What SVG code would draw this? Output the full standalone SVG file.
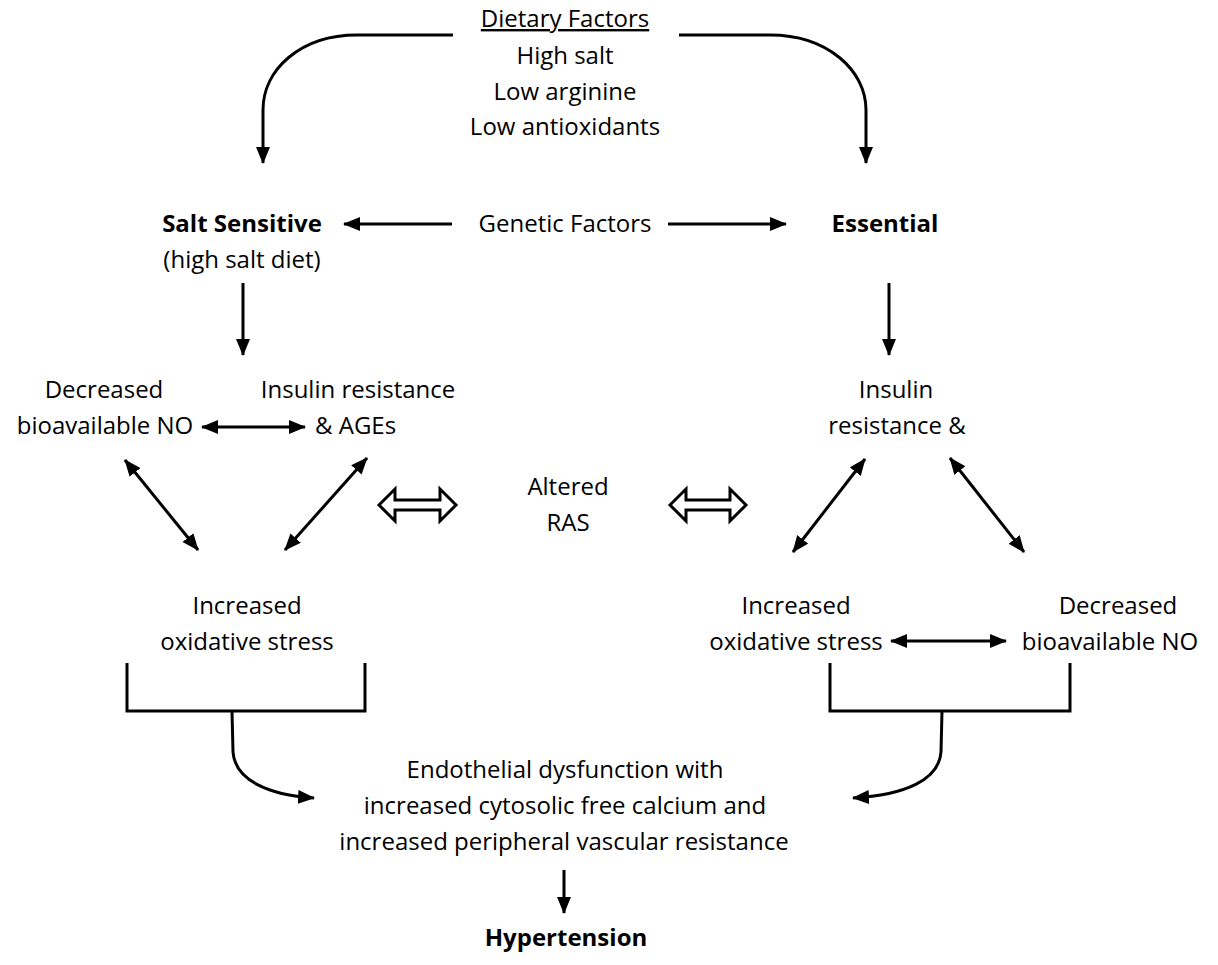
<svg xmlns="http://www.w3.org/2000/svg" width="1218" height="965" viewBox="0 0 1218 965">
<style>
text{font-family:"Open Sans",Lato,"Liberation Sans",sans-serif;font-size:24px;fill:#000;text-anchor:middle}
.b{font-weight:bold}
.ln{fill:none;stroke:#000;stroke-width:3}
.ha{fill:#fff;stroke:#000;stroke-width:3;stroke-linejoin:miter}
</style>
<defs>
<marker id="ah" markerUnits="userSpaceOnUse" markerWidth="18" markerHeight="14" refX="16" refY="7" orient="auto-start-reverse"><path d="M0,0 L17,7 L0,14 z" fill="#000"/></marker>
</defs>
<rect width="1218" height="965" fill="#fff"/>
<g id="dietary">
<text x="565" y="27" style="text-decoration:underline">Dietary Factors</text>
<text x="565" y="64">High salt</text>
<text x="565" y="100">Low arginine</text>
<text x="565" y="135">Low antioxidants</text>
</g>
<g id="salt"><text class="b" x="242" y="232">Salt Sensitive</text><text x="242" y="268">(high salt diet)</text></g>
<g id="genetic"><text x="565" y="232">Genetic Factors</text></g>
<g id="essential"><text class="b" x="885" y="232">Essential</text></g>
<g id="leftNO"><text x="104" y="398">Decreased</text><text x="105" y="434">bioavailable NO</text></g>
<g id="leftIR"><text x="358" y="398">Insulin resistance</text><text x="315" y="434" style="text-anchor:start">&amp; AGEs</text></g>
<g id="rightIR"><text x="896" y="398">Insulin</text><text x="897" y="434">resistance &amp;</text></g>
<g id="ras"><text x="568" y="495">Altered</text><text x="568" y="531">RAS</text></g>
<g id="leftOS"><text x="247" y="614">Increased</text><text x="247" y="650">oxidative stress</text></g>
<g id="rightOS"><text x="796" y="614">Increased</text><text x="796" y="650">oxidative stress</text></g>
<g id="rightNO"><text x="1118" y="614">Decreased</text><text x="1110" y="650">bioavailable NO</text></g>
<g id="endo">
<text x="565" y="778">Endothelial dysfunction with</text>
<text x="565" y="814">increased cytosolic free calcium and</text>
<text x="564" y="850">increased peripheral vascular resistance</text>
</g>
<g id="hyper"><text class="b" x="566" y="946">Hypertension</text></g>
<g id="connectors">
<path class="ln" d="M453,35 L357,35 C300,35 263,70 263,110 L263,163" marker-end="url(#ah)"/>
<path class="ln" d="M679,35 L770,35 C827,35 866,70 866,110 L866,163" marker-end="url(#ah)"/>
<path class="ln" d="M452,224 L344,224" marker-end="url(#ah)"/>
<path class="ln" d="M668,224 L786,224" marker-end="url(#ah)"/>
<path class="ln" d="M243,283 L243,355" marker-end="url(#ah)"/>
<path class="ln" d="M889,283 L889,355" marker-end="url(#ah)"/>
<path class="ln" d="M202,427 L305,427" marker-start="url(#ah)" marker-end="url(#ah)"/>
<path class="ln" d="M125,460 L198,550" marker-start="url(#ah)" marker-end="url(#ah)"/>
<path class="ln" d="M367,458 L285,550" marker-start="url(#ah)" marker-end="url(#ah)"/>
<path class="ln" d="M865,459 L793,552" marker-start="url(#ah)" marker-end="url(#ah)"/>
<path class="ln" d="M950,458 L1024,552" marker-start="url(#ah)" marker-end="url(#ah)"/>
<path class="ln" d="M891,641 L1006,641" marker-start="url(#ah)" marker-end="url(#ah)"/>
<polygon class="ha" points="379,505 395,489 395,500 440,500 440,489 456,505 440,521 440,510 395,510 395,521"/>
<polygon class="ha" points="670,505 686,489 686,500 730,500 730,489 746,505 730,521 730,510 686,510 686,521"/>
<path class="ln" d="M127,663 L127,711 L365,711 L365,663"/>
<path class="ln" d="M830,663 L830,711 L1070,711 L1070,663"/>
<path class="ln" d="M232,711 L233,752 C235,780 268,795 314,798" marker-end="url(#ah)"/>
<path class="ln" d="M942,711 L941,752 C939,780 905,795 853,798" marker-end="url(#ah)"/>
<path class="ln" d="M564,870 L564,913" marker-end="url(#ah)"/>
</g>
</svg>
